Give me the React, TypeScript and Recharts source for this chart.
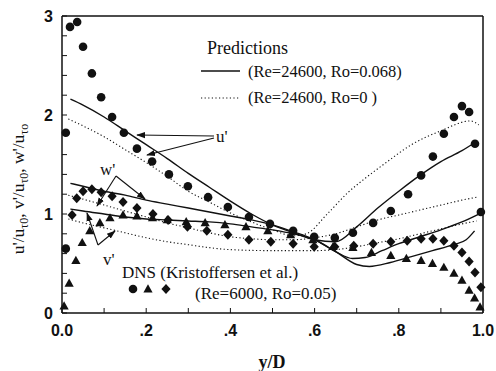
import React from 'react';
import { ComposedChart, Line, Scatter, XAxis, YAxis } from 'recharts';

// ---- axis ticks ----
const xTicks = [0, 0.1, 0.2, 0.3, 0.4, 0.5, 0.6, 0.7, 0.8, 0.9, 1.0];
const xTickLabels = ['0.0', '', '.2', '', '.4', '', '.6', '', '.8', '', '1.0'];
const yTicks = [0, 0.2, 0.4, 0.6, 0.8, 1, 1.2, 1.4, 1.6, 1.8, 2, 2.2, 2.4, 2.6, 2.8, 3];
const yTickLabels = ['0', '', '', '', '', '1', '', '', '', '', '2', '', '', '', '', '3'];

// ---- DNS (Kristoffersen et al.) markers ----
const uDns = [
  { x: 0.009, y: 0.65 }, { x: 0.009, y: 1.82 }, { x: 0.019, y: 2.89 }, { x: 0.036, y: 2.94 },
  { x: 0.05, y: 2.69 }, { x: 0.071, y: 2.42 }, { x: 0.093, y: 2.18 }, { x: 0.119, y: 1.98 },
  { x: 0.147, y: 1.82 }, { x: 0.178, y: 1.66 }, { x: 0.214, y: 1.53 }, { x: 0.254, y: 1.4 },
  { x: 0.299, y: 1.28 }, { x: 0.347, y: 1.17 }, { x: 0.394, y: 1.07 }, { x: 0.444, y: 0.97 },
  { x: 0.494, y: 0.9 }, { x: 0.549, y: 0.83 }, { x: 0.599, y: 0.77 }, { x: 0.648, y: 0.76 },
  { x: 0.691, y: 0.81 }, { x: 0.739, y: 0.91 }, { x: 0.781, y: 1.03 }, { x: 0.822, y: 1.2 },
  { x: 0.853, y: 1.39 }, { x: 0.881, y: 1.58 }, { x: 0.907, y: 1.81 }, { x: 0.931, y: 1.98 },
  { x: 0.95, y: 2.09 }, { x: 0.967, y: 2.03 }, { x: 0.981, y: 1.71 }, { x: 0.995, y: 1.02 },
];
const vDns = [
  { x: 0.005, y: 0.07 }, { x: 0.017, y: 0.3 }, { x: 0.033, y: 0.53 }, { x: 0.048, y: 0.71 },
  { x: 0.066, y: 0.83 }, { x: 0.09, y: 0.91 }, { x: 0.114, y: 0.96 }, { x: 0.145, y: 0.99 },
  { x: 0.178, y: 0.98 }, { x: 0.215, y: 0.96 }, { x: 0.25, y: 0.94 }, { x: 0.295, y: 0.92 },
  { x: 0.34, y: 0.91 }, { x: 0.387, y: 0.89 }, { x: 0.437, y: 0.87 }, { x: 0.489, y: 0.83 },
  { x: 0.543, y: 0.79 }, { x: 0.596, y: 0.74 }, { x: 0.644, y: 0.67 }, { x: 0.691, y: 0.66 },
  { x: 0.735, y: 0.61 }, { x: 0.781, y: 0.58 }, { x: 0.818, y: 0.55 }, { x: 0.853, y: 0.53 },
  { x: 0.88, y: 0.5 }, { x: 0.907, y: 0.46 }, { x: 0.931, y: 0.4 }, { x: 0.95, y: 0.33 },
  { x: 0.967, y: 0.23 }, { x: 0.98, y: 0.15 }, { x: 0.993, y: 0.06 },
];
const wDns = [
  { x: 0.024, y: 0.99 }, { x: 0.035, y: 1.16 }, { x: 0.05, y: 1.23 }, { x: 0.071, y: 1.25 },
  { x: 0.093, y: 1.22 }, { x: 0.119, y: 1.18 }, { x: 0.145, y: 1.12 }, { x: 0.178, y: 1.06 },
  { x: 0.216, y: 1.0 }, { x: 0.252, y: 0.94 }, { x: 0.298, y: 0.87 }, { x: 0.344, y: 0.83 },
  { x: 0.394, y: 0.79 }, { x: 0.444, y: 0.74 }, { x: 0.496, y: 0.72 }, { x: 0.549, y: 0.7 },
  { x: 0.599, y: 0.67 }, { x: 0.648, y: 0.67 }, { x: 0.693, y: 0.68 }, { x: 0.739, y: 0.7 },
  { x: 0.781, y: 0.72 }, { x: 0.82, y: 0.73 }, { x: 0.853, y: 0.75 }, { x: 0.881, y: 0.75 },
  { x: 0.907, y: 0.73 }, { x: 0.931, y: 0.68 }, { x: 0.95, y: 0.61 }, { x: 0.967, y: 0.52 },
  { x: 0.981, y: 0.41 }, { x: 0.995, y: 0.26 },
];

// ---- Predictions (Re=24600, Ro=0.068) solid ----
const uSolid = [
  { x: 0.02, y: 2.16 }, { x: 0.05, y: 2.1 }, { x: 0.1, y: 1.98 }, { x: 0.15, y: 1.84 },
  { x: 0.2, y: 1.7 }, { x: 0.25, y: 1.56 }, { x: 0.3, y: 1.41 }, { x: 0.35, y: 1.27 },
  { x: 0.4, y: 1.13 }, { x: 0.45, y: 1.0 }, { x: 0.5, y: 0.89 }, { x: 0.55, y: 0.81 },
  { x: 0.6, y: 0.74 }, { x: 0.65, y: 0.72 }, { x: 0.7, y: 0.87 }, { x: 0.75, y: 1.06 },
  { x: 0.8, y: 1.23 }, { x: 0.85, y: 1.39 }, { x: 0.9, y: 1.53 }, { x: 0.95, y: 1.64 },
  { x: 0.98, y: 1.72 },
];
const wSolid = [
  { x: 0.02, y: 1.31 }, { x: 0.05, y: 1.28 }, { x: 0.1, y: 1.23 }, { x: 0.15, y: 1.19 },
  { x: 0.2, y: 1.14 }, { x: 0.25, y: 1.1 }, { x: 0.3, y: 1.06 }, { x: 0.35, y: 1.02 },
  { x: 0.4, y: 0.98 }, { x: 0.45, y: 0.94 }, { x: 0.5, y: 0.89 }, { x: 0.55, y: 0.82 },
  { x: 0.6, y: 0.74 }, { x: 0.65, y: 0.62 }, { x: 0.69, y: 0.55 }, { x: 0.72, y: 0.56 },
  { x: 0.76, y: 0.63 }, { x: 0.8, y: 0.7 }, { x: 0.85, y: 0.77 }, { x: 0.9, y: 0.84 },
  { x: 0.95, y: 0.92 }, { x: 0.995, y: 1.01 },
];
const vSolid = [
  { x: 0.02, y: 1.05 }, { x: 0.05, y: 1.03 }, { x: 0.1, y: 1.0 }, { x: 0.15, y: 0.97 },
  { x: 0.2, y: 0.95 }, { x: 0.25, y: 0.94 }, { x: 0.3, y: 0.93 }, { x: 0.35, y: 0.92 },
  { x: 0.4, y: 0.9 }, { x: 0.45, y: 0.87 }, { x: 0.5, y: 0.84 }, { x: 0.55, y: 0.8 },
  { x: 0.6, y: 0.74 }, { x: 0.65, y: 0.62 }, { x: 0.7, y: 0.49 }, { x: 0.73, y: 0.47 },
  { x: 0.78, y: 0.51 }, { x: 0.83, y: 0.57 }, { x: 0.88, y: 0.63 }, { x: 0.93, y: 0.69 },
  { x: 0.96, y: 0.74 }, { x: 0.98, y: 0.83 },
];

// ---- Predictions (Re=24600, Ro=0) dotted ----
const uDotted = [
  { x: 0.015, y: 1.96 }, { x: 0.05, y: 1.89 }, { x: 0.1, y: 1.78 }, { x: 0.15, y: 1.65 },
  { x: 0.2, y: 1.52 }, { x: 0.25, y: 1.38 }, { x: 0.3, y: 1.23 }, { x: 0.35, y: 1.12 },
  { x: 0.4, y: 1.01 }, { x: 0.45, y: 0.92 }, { x: 0.5, y: 0.84 }, { x: 0.55, y: 0.78 },
  { x: 0.58, y: 0.8 }, { x: 0.63, y: 1.0 }, { x: 0.68, y: 1.22 }, { x: 0.72, y: 1.36 },
  { x: 0.77, y: 1.52 }, { x: 0.83, y: 1.7 }, { x: 0.9, y: 1.84 }, { x: 0.97, y: 1.94 },
  { x: 0.99, y: 1.9 },
];
const wDotted = [
  { x: 0.015, y: 1.19 }, { x: 0.05, y: 1.15 }, { x: 0.1, y: 1.09 }, { x: 0.15, y: 1.03 },
  { x: 0.2, y: 0.97 }, { x: 0.25, y: 0.91 }, { x: 0.3, y: 0.86 }, { x: 0.35, y: 0.81 },
  { x: 0.4, y: 0.77 }, { x: 0.45, y: 0.75 }, { x: 0.5, y: 0.74 }, { x: 0.55, y: 0.74 },
  { x: 0.6, y: 0.76 }, { x: 0.65, y: 0.8 }, { x: 0.7, y: 0.87 }, { x: 0.75, y: 0.94 },
  { x: 0.8, y: 0.99 }, { x: 0.85, y: 1.04 }, { x: 0.9, y: 1.09 }, { x: 0.95, y: 1.14 },
  { x: 0.985, y: 1.17 },
];
const vDotted = [
  { x: 0.015, y: 0.95 }, { x: 0.05, y: 0.91 }, { x: 0.1, y: 0.86 }, { x: 0.15, y: 0.81 },
  { x: 0.2, y: 0.76 }, { x: 0.25, y: 0.72 }, { x: 0.3, y: 0.69 }, { x: 0.35, y: 0.66 },
  { x: 0.4, y: 0.64 }, { x: 0.5, y: 0.63 }, { x: 0.6, y: 0.63 }, { x: 0.65, y: 0.64 },
  { x: 0.7, y: 0.67 }, { x: 0.75, y: 0.71 }, { x: 0.8, y: 0.75 }, { x: 0.85, y: 0.8 },
  { x: 0.9, y: 0.85 }, { x: 0.95, y: 0.9 }, { x: 0.985, y: 0.93 },
];

const INK = '#111';
const SERIF = 'Liberation Serif, Times New Roman, serif';
const SANS = 'Liberation Sans, Arial, sans-serif';

const CircleMark = (p: any) => <circle cx={p.cx} cy={p.cy} r={4.3} fill={INK} />;
const TriMark = (p: any) => (
  <polygon
    points={`${p.cx},${p.cy - 4.8} ${p.cx + 4.6},${p.cy + 3.4} ${p.cx - 4.6},${p.cy + 3.4}`}
    fill={INK}
  />
);
const DiaMark = (p: any) => (
  <polygon
    points={`${p.cx},${p.cy - 5} ${p.cx + 4.6},${p.cy} ${p.cx},${p.cy + 5} ${p.cx - 4.6},${p.cy}`}
    fill={INK}
  />
);

const xFmt = (v: number) => xTickLabels[Math.round(v * 10)] ?? '';
const yFmt = (v: number) => yTickLabels[Math.round(v * 5)] ?? '';

const solidProps = { stroke: INK, strokeWidth: 1.4, dot: false, isAnimationActive: false, type: 'monotone' as const };
const dottedProps = { stroke: INK, strokeWidth: 1.1, strokeDasharray: '1.2 2.4', dot: false, isAnimationActive: false, type: 'monotone' as const };

export default function App() {
  return (
    <div style={{ position: 'absolute', left: 0, top: 0, width: 496, height: 371, background: '#fff' }}>
      <ComposedChart width={496} height={371} margin={{ top: 15, right: 12, bottom: 28, left: 0 }}>
        <XAxis
          xAxisId={0}
          dataKey="x"
          type="number"
          domain={[0, 1]}
          ticks={xTicks}
          tickFormatter={xFmt}
          interval={0}
          height={30}
          tickSize={-5}
          tickMargin={17}
          axisLine={{ stroke: INK, strokeWidth: 1.5 }}
          tickLine={{ stroke: INK, strokeWidth: 1 }}
          tick={{ fill: INK, fontSize: 16, fontWeight: 'bold', fontFamily: SANS }}
        />
        <XAxis
          xAxisId="top"
          orientation="top"
          dataKey="x"
          type="number"
          domain={[0, 1]}
          ticks={xTicks}
          interval={0}
          height={1}
          tickSize={-5}
          tick={false}
          axisLine={{ stroke: INK, strokeWidth: 1.5 }}
          tickLine={{ stroke: INK, strokeWidth: 1 }}
        />
        <YAxis
          yAxisId={0}
          type="number"
          domain={[0, 3]}
          ticks={yTicks}
          tickFormatter={yFmt}
          interval={0}
          width={62}
          tickSize={-5}
          tickMargin={14}
          axisLine={{ stroke: INK, strokeWidth: 1.5 }}
          tickLine={{ stroke: INK, strokeWidth: 1 }}
          tick={{ fill: INK, fontSize: 16, fontWeight: 'bold', fontFamily: SANS }}
        />
        <YAxis
          yAxisId="right"
          orientation="right"
          type="number"
          domain={[0, 3]}
          ticks={yTicks}
          interval={0}
          width={1}
          tickSize={-5}
          tick={false}
          axisLine={{ stroke: INK, strokeWidth: 1.5 }}
          tickLine={{ stroke: INK, strokeWidth: 1 }}
        />

        <Line data={uSolid} dataKey="y" {...solidProps} />
        <Line data={wSolid} dataKey="y" {...solidProps} />
        <Line data={vSolid} dataKey="y" {...solidProps} />
        <Line data={uDotted} dataKey="y" {...dottedProps} />
        <Line data={wDotted} dataKey="y" {...dottedProps} />
        <Line data={vDotted} dataKey="y" {...dottedProps} />

        <Scatter data={uDns} dataKey="y" shape={CircleMark} isAnimationActive={false} />
        <Scatter data={vDns} dataKey="y" shape={TriMark} isAnimationActive={false} />
        <Scatter data={wDns} dataKey="y" shape={DiaMark} isAnimationActive={false} />
      </ComposedChart>

      <svg
        width={496}
        height={371}
        style={{ position: 'absolute', left: 0, top: 0, pointerEvents: 'none' }}
      >
        <defs>
          <marker id="ah" viewBox="0 0 10 10" refX="9" refY="5" markerWidth="9" markerHeight="9" orient="auto-start-reverse" markerUnits="userSpaceOnUse">
            <path d="M0,1.5 L10,5 L0,8.5 Z" fill={INK} />
          </marker>
        </defs>

        {/* y-axis title */}
        <text
          transform="translate(24,189) rotate(-90)"
          textAnchor="middle"
          fontFamily={SERIF}
          fontSize={17.5}
          fill={INK}
        >
          <tspan>u'/u</tspan>
          <tspan fontSize={12} dy={4}>τ0</tspan>
          <tspan dy={-4}>, v'/u</tspan>
          <tspan fontSize={12} dy={4}>τ0</tspan>
          <tspan dy={-4}>,  w'/u</tspan>
          <tspan fontSize={12} dy={4}>τo</tspan>
        </text>

        {/* x-axis title */}
        <text x={272} y={368} textAnchor="middle" fontFamily={SERIF} fontSize={18} fontWeight="bold" fill={INK}>
          y/D
        </text>

        {/* Predictions legend */}
        <text x={207} y={54} fontFamily={SERIF} fontSize={18} fill={INK}>Predictions</text>
        <line x1={201} y1={71} x2={240} y2={71} stroke={INK} strokeWidth={1.4} />
        <text x={248} y={77} fontFamily={SERIF} fontSize={16.5} fill={INK}>(Re=24600, Ro=0.068)</text>
        <line x1={201} y1={98} x2={240} y2={98} stroke={INK} strokeWidth={1.1} strokeDasharray="1.2 2.4" />
        <text x={248} y={103} fontFamily={SERIF} fontSize={16.5} fill={INK}>(Re=24600, Ro=0 )</text>

        {/* DNS legend */}
        <text x={122} y={278} fontFamily={SERIF} fontSize={17} fill={INK}>DNS (Kristoffersen et al.)</text>
        <circle cx={133} cy={289} r={4.3} fill={INK} />
        <polygon points="148,284.2 152.6,292.4 143.4,292.4" fill={INK} />
        <polygon points="166,284 170.6,289 166,294 161.4,289" fill={INK} />
        <text x={195} y={299} fontFamily={SERIF} fontSize={17} fill={INK}>(Re=6000, Ro=0.05)</text>

        {/* u' annotation */}
        <text x={216} y={142} fontFamily={SERIF} fontSize={17} fill={INK}>u'</text>
        <line x1={214} y1={136} x2={137} y2={135} stroke={INK} strokeWidth={1.1} markerEnd="url(#ah)" />
        <line x1={214} y1={138} x2={147} y2={155} stroke={INK} strokeWidth={1.1} markerEnd="url(#ah)" />

        {/* w' annotation */}
        <text x={100} y={175} fontFamily={SERIF} fontSize={17} fill={INK}>w'</text>
        <line x1={116} y1={176} x2={97} y2={206} stroke={INK} strokeWidth={1.1} markerEnd="url(#ah)" />
        <line x1={116} y1={176} x2={145} y2={199} stroke={INK} strokeWidth={1.1} markerEnd="url(#ah)" />

        {/* v' annotation */}
        <text x={103} y={265} fontFamily={SERIF} fontSize={17} fill={INK}>v'</text>
        <line x1={98} y1={245} x2={87} y2={213} stroke={INK} strokeWidth={1.1} markerEnd="url(#ah)" />
        <line x1={98} y1={245} x2={115} y2={231} stroke={INK} strokeWidth={1.1} markerEnd="url(#ah)" />
      </svg>
    </div>
  );
}
